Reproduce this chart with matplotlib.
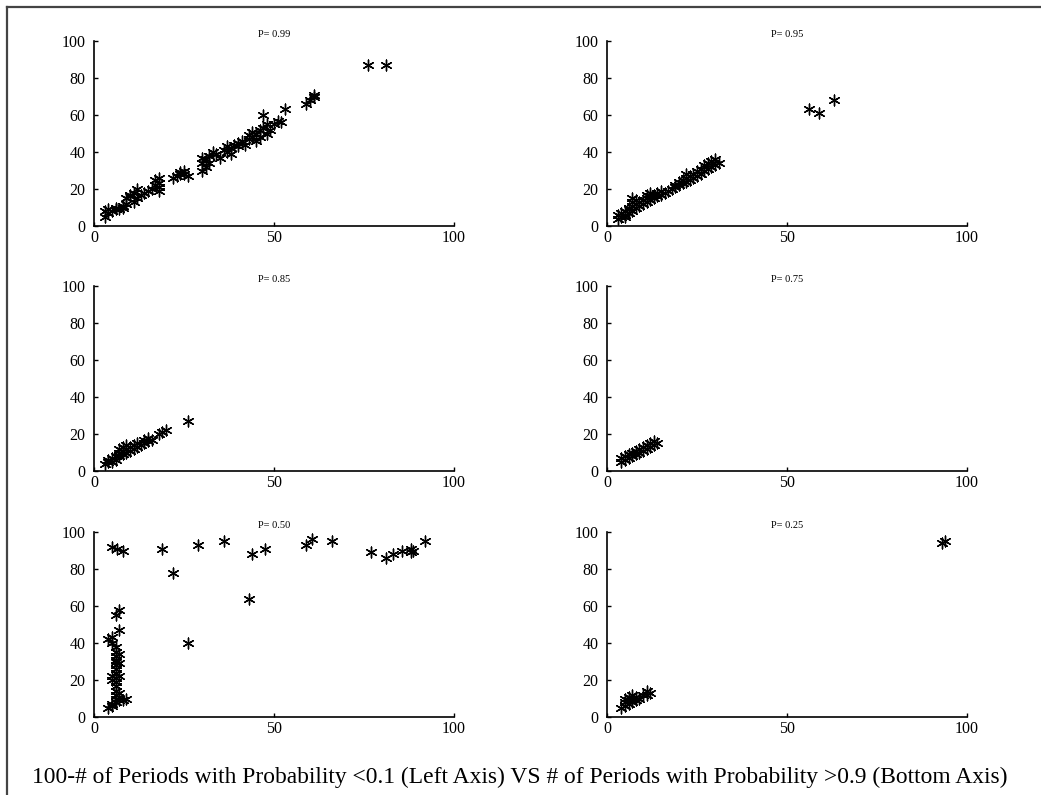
import matplotlib
matplotlib.use("Agg")
import matplotlib.pyplot as plt
from matplotlib.lines import Line2D

plt.rcParams['font.family'] = ['Liberation Serif', 'DejaVu Serif']

titles = ["P= 0.99", "P= 0.95", "P= 0.85", "P= 0.75", "P= 0.50", "P= 0.25"]

p99_x = [3, 3, 4, 4, 5, 6, 6, 7, 8, 8, 9, 9, 10, 10, 11, 11, 12, 12, 13, 14, 15, 16, 17, 17, 18, 18, 18, 18,
         22, 23, 24, 24, 25, 25, 26, 30, 30, 30, 31, 31, 32, 32, 33, 34, 35, 36, 37, 37, 38, 38, 39, 40, 40,
         41, 42, 43, 43, 44, 44, 45, 45, 46, 46, 47, 47, 48, 48, 49, 50, 51, 52, 53, 59, 60, 61, 61, 76, 81]
p99_y = [5, 8, 7, 9, 8, 9, 10, 9, 10, 11, 12, 15, 16, 17, 13, 18, 15, 20, 17, 18, 19, 20, 22, 25, 21, 23, 19, 26,
         26, 27, 28, 29, 30, 28, 27, 30, 34, 37, 32, 36, 34, 38, 40, 39, 37, 41, 40, 43, 42, 39, 44, 43, 45,
         46, 44, 47, 49, 48, 51, 50, 46, 52, 48, 53, 60, 50, 55, 52, 55, 57, 56, 63, 66, 68, 70, 71, 87, 87]

p95_x = [3, 3, 4, 4, 5, 5, 5, 6, 6, 6, 7, 7, 7, 7, 8, 8, 8, 9, 9, 10, 10, 11, 11, 11, 12, 12, 12, 13, 13, 14,
         14, 15, 15, 16, 17, 18, 19, 19, 20, 20, 21, 21, 22, 22, 22, 23, 23, 24, 24, 25, 25, 26, 26, 27, 27,
         28, 28, 29, 29, 30, 30, 31, 56, 59, 63]
p95_y = [4, 6, 5, 7, 6, 8, 5, 7, 9, 10, 8, 11, 13, 15, 10, 12, 14, 11, 13, 12, 14, 13, 15, 17, 14, 16, 18, 15,
         17, 16, 18, 17, 19, 18, 19, 20, 21, 22, 22, 24, 23, 25, 24, 26, 28, 25, 27, 26, 28, 27, 30, 28, 31,
         30, 33, 31, 34, 32, 35, 33, 36, 34, 63, 61, 68]

p85_x = [3, 4, 4, 5, 5, 6, 6, 7, 7, 7, 8, 8, 8, 9, 9, 9, 10, 10, 11, 11, 12, 12, 13, 14, 14, 15, 15, 16, 18,
         19, 20, 26]
p85_y = [4, 5, 6, 5, 7, 6, 8, 8, 10, 12, 9, 11, 13, 10, 12, 14, 11, 13, 12, 14, 13, 15, 14, 15, 17, 16, 18, 17,
         20, 21, 22, 27]

p75_x = [4, 4, 5, 5, 6, 6, 7, 7, 8, 8, 9, 9, 10, 10, 11, 11, 12, 12, 13, 13, 14]
p75_y = [5, 7, 6, 8, 7, 9, 8, 10, 9, 11, 10, 12, 11, 13, 12, 14, 13, 15, 14, 16, 15]

p50_x = [5, 6.5, 8, 19, 22, 26, 29, 36, 43, 44, 47.5, 59, 60.5, 66, 77, 81, 83, 85.5, 88, 88, 88.5, 92,
         4, 5, 5, 6, 6, 6, 6, 7, 6, 6, 7, 6, 6, 5, 6, 5, 6, 7, 6, 6, 6, 7, 6, 7, 8, 9, 5, 4, 5, 6, 7, 6, 7]
p50_y = [92, 91, 90, 91, 78, 40, 93, 95, 64, 88, 91, 93, 96, 95, 89, 86, 88, 90, 89, 91, 90, 95,
         42, 40, 43, 38, 35, 33, 31, 34, 30, 28, 29, 26, 24, 22, 21, 20, 19, 22, 17, 14, 12, 13, 10, 9, 9, 10,
         7, 5, 6, 8, 47, 55, 58]

p25_x = [4, 5, 5, 5, 6, 6, 6, 7, 7, 7, 8, 8, 9, 10, 11, 11, 12, 93, 94]
p25_y = [5, 6, 8, 10, 7, 9, 11, 8, 10, 12, 9, 11, 10, 12, 12, 14, 13, 94, 95]

series = [(p99_x, p99_y), (p95_x, p95_y), (p85_x, p85_y), (p75_x, p75_y), (p50_x, p50_y), (p25_x, p25_y)]

caption = ("100-# of Periods with Probability <0.1 (Left Axis) VS # of Periods with "
           "Probability >0.9 (Bottom Axis)")

W, H = 1041, 795
fig = plt.figure(figsize=(W / 100, H / 100), dpi=100)

lefts = [94, 607]
tops = [41, 286, 532]
aw, ah = 360, 185

for i, ((xs, ys), t) in enumerate(zip(series, titles)):
    r, c = divmod(i, 2)
    l = lefts[c]
    tp = tops[r]
    ax = fig.add_axes([l / W, 1 - (tp + ah) / H, aw / W, ah / H])
    ax.scatter(xs, ys, marker=(6, 2, 0), s=60, c='black', linewidths=1.0, clip_on=False)
    ax.set_xlim(0, 100)
    ax.set_ylim(0, 100)
    ax.set_xticks([0, 50, 100])
    ax.set_yticks([0, 20, 40, 60, 80, 100])
    for s in ['top', 'right']:
        ax.spines[s].set_visible(False)
    for s in ['left', 'bottom']:
        ax.spines[s].set_linewidth(1.2)
    ax.tick_params(direction='in', length=3, width=1, labelsize=11.5, pad=3)
    ax.tick_params(axis='y', pad=6)
    ax.set_title(t, fontsize=7.5, pad=3)

fig.text(520 / W, 1 - 777 / H, caption, ha='center', va='center', fontsize=16.9)

fig.add_artist(Line2D([7 / W, 7 / W], [0, 1 - 7 / H], color='#444444', lw=1.6))
fig.add_artist(Line2D([7 / W, 1], [1 - 7 / H, 1 - 7 / H], color='#444444', lw=1.6))

fig.savefig('out.png', dpi=100)
